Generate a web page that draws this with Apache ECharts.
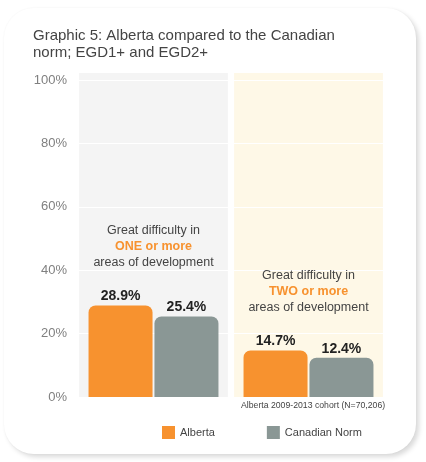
<!DOCTYPE html>
<html>
<head>
<meta charset="utf-8">
<script src="https://cdn.jsdelivr.net/npm/echarts@6/dist/echarts.min.js"></script>
<style>
    html, body { margin: 0; padding: 0; background: #fff; }
    #card {
        position: absolute; left: 4px; top: 8px; width: 412px; height: 446px;
        border-radius: 30px; background: #fff;
        box-shadow: 3px 3px 5px rgba(0, 0, 0, 0.15), 0 0 2px rgba(0, 0, 0, 0.04);
    }
    #main { position: absolute; left: 0; top: 0; width: 426px; height: 462px; }
</style>
</head>
<body>
<div id="card"></div>
<div id="main"></div>
<script>
var categories = ['EGD1+', 'EGD2+'];
var albertaData = [28.9, 14.7];
var canadaData = [25.4, 12.4];
var yTicks = [0, 20, 40, 60, 80, 100];
var panelColors = ['#f4f4f4', '#fef8e7'];
var notes = [
    ['Great difficulty in', 'ONE or more', 'areas of development'],
    ['Great difficulty in', 'TWO or more', 'areas of development']
];
var notePos = [47.5, 33.3];

var chart = echarts.init(document.getElementById('main'));

var fontFamily = 'Helvetica, "Liberation Sans", Arial, sans-serif';

var option = {
    animation: false,
    textStyle: { fontFamily: fontFamily },
    title: {
        text: 'Graphic 5: Alberta compared to the Canadian\nnorm; EGD1+ and EGD2+',
        left: 28,
        top: 22,
        textStyle: {
            fontSize: 15,
            fontWeight: 'normal',
            color: '#444',
            lineHeight: 17,
            fontFamily: fontFamily
        }
    },
    legend: {
        data: ['Alberta', 'Canadian Norm'],
        bottom: 18,
        left: 157,
        itemWidth: 13,
        itemHeight: 13,
        itemGap: 52,
        icon: 'rect',
        textStyle: { fontSize: 11, color: '#444' }
    },
    grid: {
        left: 76,
        right: 40,
        top: 80,
        bottom: 65
    },
    xAxis: [
        {
            type: 'category',
            data: categories,
            axisLine: { show: false },
            axisTick: { show: false },
            axisLabel: { show: false }
        },
        {
            type: 'category',
            data: categories,
            show: false
        }
    ],
    yAxis: [
        {
            type: 'value',
            min: yTicks[0],
            max: yTicks[yTicks.length - 1],
            interval: 20,
            axisLine: { show: false },
            axisTick: { show: false },
            splitLine: { show: true, z: 1, lineStyle: { color: '#ffffff', width: 1 } },
            axisLabel: {
                formatter: '{value}%',
                color: '#808080',
                fontSize: 13,
                margin: 9
            },
            z: 3
        },
        {
            type: 'value',
            min: 0,
            max: 100,
            show: false
        }
    ],
    graphic: [
        {
            type: 'text',
            left: 241,
            top: 401,
            style: {
                text: 'Alberta 2009-2013 cohort (N=70,206)',
                fill: '#444',
                fontSize: 8.7,
                fontFamily: fontFamily
            }
        }
    ],
    series: [
        {
            name: 'panel',
            type: 'bar',
            xAxisIndex: 1,
            yAxisIndex: 1,
            barCategoryGap: '4%',
            clip: false,
            silent: true,
            z: 0,
            data: categories.map(function (c, i) {
                return { value: 102.2, itemStyle: { color: panelColors[i] } };
            }),
            markPoint: {
                symbol: 'circle',
                symbolSize: 0,
                data: categories.map(function (c, i) {
                    return {
                        coord: [c, notePos[i]],
                        label: {
                            show: true,
                            position: 'inside',
                            formatter: '{a|' + notes[i][0] + '}\n{b|' + notes[i][1] + '}\n{a|' + notes[i][2] + '}',
                            rich: {
                                a: { fontSize: 12.5, color: '#444', lineHeight: 16, align: 'center', fontFamily: fontFamily },
                                b: { fontSize: 12.5, color: '#f7922f', fontWeight: 'bold', lineHeight: 16, align: 'center', fontFamily: fontFamily }
                            }
                        }
                    };
                })
            }
        },
        {
            name: 'Alberta',
            type: 'bar',
            barWidth: 64,
            barGap: '3%',
            z: 5,
            itemStyle: { color: '#f7922f', borderRadius: [7, 7, 0, 0] },
            label: {
                show: true,
                position: 'top',
                distance: 2,
                formatter: '{c}%',
                fontSize: 14,
                fontWeight: 'bold',
                color: '#222'
            },
            data: albertaData
        },
        {
            name: 'Canadian Norm',
            type: 'bar',
            barWidth: 64,
            z: 5,
            itemStyle: { color: '#8a9795', borderRadius: [7, 7, 0, 0] },
            label: {
                show: true,
                position: 'top',
                distance: 2,
                formatter: '{c}%',
                fontSize: 14,
                fontWeight: 'bold',
                color: '#222'
            },
            data: canadaData
        }
    ]
};

chart.setOption(option);
</script>
</body>
</html>
